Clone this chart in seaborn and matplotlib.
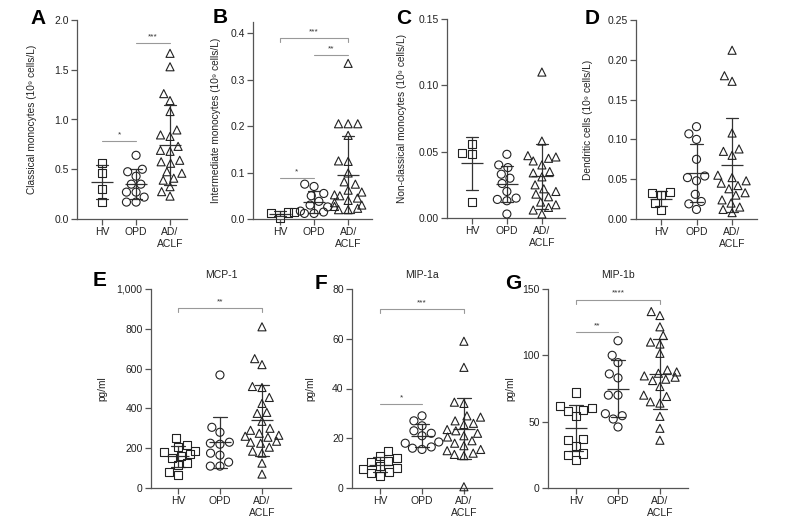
import pandas as pd
import seaborn as sns
import matplotlib.pyplot as plt
from matplotlib.ticker import FormatStrFormatter, StrMethodFormatter

sns.set_style("ticks")
plt.rcParams["font.family"] = ["Liberation Sans", "DejaVu Sans"]

groups = ["HV", "OPD", "AD/ACLF"]
group_ticks = ["HV", "OPD", "AD/\nACLF"]
group_markers = ["s", "o", "^"]

# A - classical monocytes (10^9 cells/L)
classical_hv = [0.56, 0.465, 0.30, 0.175]
classical_opd = [0.64, 0.50, 0.475, 0.43, 0.35, 0.35, 0.27, 0.27, 0.22, 0.17, 0.17]
classical_ad = [1.665, 1.53, 1.26, 1.19, 1.08, 0.895, 0.845, 0.83, 0.73, 0.69, 0.68,
                0.59, 0.575, 0.56, 0.475, 0.46, 0.41, 0.39, 0.325, 0.275, 0.23]

# B - intermediate monocytes
intermediate_hv = [0.003, 0.012, 0.014, 0.015]
intermediate_opd = [0.075, 0.07, 0.055, 0.05, 0.038, 0.03, 0.026, 0.017, 0.015, 0.012, 0.012]
intermediate_ad = [0.335, 0.205, 0.205, 0.205, 0.18, 0.125, 0.124, 0.099, 0.08, 0.075, 0.062,
                   0.058, 0.052, 0.05, 0.045, 0.04, 0.035, 0.03, 0.027, 0.023, 0.02, 0.02]

# C - non-classical monocytes
nonclassical_hv = [0.056, 0.049, 0.048, 0.012]
nonclassical_opd = [0.048, 0.040, 0.038, 0.033, 0.030, 0.026, 0.020, 0.015, 0.014, 0.013, 0.003]
nonclassical_ad = [0.11, 0.058, 0.047, 0.046, 0.045, 0.043, 0.040, 0.035, 0.034, 0.031, 0.025,
                   0.022, 0.02, 0.018, 0.016, 0.012, 0.01, 0.008, 0.006, 0.003]

# D - dendritic cells
dendritic_hv = [0.034, 0.033, 0.03, 0.02, 0.011]
dendritic_opd = [0.116, 0.107, 0.1, 0.075, 0.054, 0.052, 0.048, 0.031, 0.022, 0.019, 0.012]
dendritic_ad = [0.212, 0.18, 0.173, 0.108, 0.088, 0.085, 0.08, 0.055, 0.052, 0.048, 0.045,
                0.042, 0.038, 0.033, 0.03, 0.024, 0.02, 0.015, 0.012, 0.008]

# E - MCP-1 (pg/ml)
mcp1_hv = [250, 215, 205, 185, 180, 170, 160, 150, 125, 115, 80, 65]
mcp1_opd = [568, 305, 280, 230, 225, 220, 175, 165, 130, 110, 110]
mcp1_ad = [810, 650, 620, 510, 505, 455, 425, 380, 375, 335, 300, 290, 275, 265, 260,
           255, 235, 230, 225, 205, 185, 175, 125, 70]

# F - MIP-1a (pg/ml)
mip1a_hv = [15, 13, 12, 11, 10.5, 9, 8, 7.5, 6.5, 6, 5]
mip1a_opd = [29, 27, 25, 23, 22, 21, 18.5, 18, 16.5, 16, 15.5]
mip1a_ad = [59, 48.5, 34.5, 34, 29, 28.5, 27, 26, 25.5, 23.5, 23, 22, 21, 20.5, 19, 18,
            17, 15.5, 15, 14, 13.5, 13, 0.5]

# G - MIP-1b (pg/ml)
mip1b_hv = [72, 62, 60, 59, 58, 54, 37, 36, 32, 26, 25, 21]
mip1b_opd = [111, 100, 94.5, 86, 83, 70, 70, 56, 54.5, 52, 46]
mip1b_ad = [133, 130, 121.5, 115, 110, 108.5, 101.5, 89, 87.5, 86.5, 84.5, 83.5, 82, 81,
            76.5, 70, 69, 65, 64, 54, 45, 36]

panels = [
    # letter, data, ylabel, title, ylim, ystep, fmt, box px (l, t, r, b), xlim, stars
    ("A", (classical_hv, classical_opd, classical_ad),
     "Classical monocytes (10⁹ cells/L)", None, (0, 2.0), 0.5, FormatStrFormatter("%.1f"),
     (77, 20, 187, 219), (-0.74, 2.5),
     [(0, 1, 0.785, "*", False), (1, 2, 1.765, "***", False)]),
    ("B", (intermediate_hv, intermediate_opd, intermediate_ad),
     "Intermediate monocytes (10⁹ cells/L)", None, (0, 0.424), 0.1, FormatStrFormatter("%.1f"),
     (253, 22, 372, 219), (-0.79, 2.7),
     [(0, 1, 0.0885, "*", False), (0, 2, 0.389, "***", True), (1, 2, 0.353, "**", False)]),
    ("C", (nonclassical_hv, nonclassical_opd, nonclassical_ad),
     "Non-classical monocytes (10⁹ cells/L)", None, (0, 0.15), 0.05, FormatStrFormatter("%.2f"),
     (447, 19, 565, 218), (-0.71, 2.66), []),
    ("D", (dendritic_hv, dendritic_opd, dendritic_ad),
     "Dendritic cells (10⁹ cells/L)", None, (0, 0.25), 0.05, FormatStrFormatter("%.2f"),
     (636, 20, 757, 219), (-0.7, 2.7), []),
    ("E", (mcp1_hv, mcp1_opd, mcp1_ad),
     "pg/ml", "MCP-1", (0, 1000), 200, StrMethodFormatter("{x:,.0f}"),
     (151, 289, 291, 488), (-0.64, 2.69),
     [(0, 2, 903, "**", True)]),
    ("F", (mip1a_hv, mip1a_opd, mip1a_ad),
     "pg/ml", "MIP-1a", (0, 80), 20, FormatStrFormatter("%d"),
     (352, 289, 492, 488), (-0.67, 2.67),
     [(0, 2, 72, "***", True), (0, 1, 33.7, "*", False)]),
    ("G", (mip1b_hv, mip1b_opd, mip1b_ad),
     "pg/ml", "MIP-1b", (0, 150), 50, FormatStrFormatter("%d"),
     (548, 289, 688, 488), (-0.67, 2.67),
     [(0, 2, 142, "****", True), (0, 1, 117.3, "**", False)]),
]

letter_pos = {"A": (30, 9), "B": (213, 8), "C": (396, 9), "D": (585, 9),
              "E": (93, 271), "F": (315, 274), "G": (505, 274)}
ylabel_x = {"A": 37, "B": 221, "C": 407, "D": 593, "E": 107, "F": 315, "G": 515}

W, H = 787, 526
fig = plt.figure(figsize=(W / 100, H / 100), dpi=100)
ink = "#222222"
axis_col = "#555555"

for letter, data, ylabel, title, ylim, ystep, fmt, box, xlim, stars in panels:
    l, t, r, b = box
    ax = fig.add_axes([l / W, 1 - b / H, (r - l) / W, (b - t) / H])
    df = pd.DataFrame({
        "group": [g for g, vals in zip(groups, data) for _ in vals],
        "value": [v for vals in data for v in vals],
    })
    for g, m in zip(groups, group_markers):
        sns.swarmplot(data=df[df["group"] == g], x="group", y="value", order=groups,
                      marker=m, size=5.8, color=ink, edgecolor=ink, linewidth=0.8,
                      warn_thresh=1, ax=ax)
    for coll in ax.collections:
        coll.set_facecolor("none")
        if len(coll.get_offsets()):
            coll.set_clip_on(False)
    sns.pointplot(data=df, x="group", y="value", order=groups, errorbar="sd",
                  capsize=0.34, marker="_", markersize=16, markeredgewidth=0.9,
                  linestyle="none", color="#333333", err_kws={"linewidth": 0.9}, ax=ax)

    # significance bars
    span = ylim[1] - ylim[0]
    for x1, x2, y, label, legs in stars:
        if legs:
            d = span * 0.02
            ax.plot([x1, x1, x2, x2], [y - d, y, y, y - d], color="#999999", lw=0.8, clip_on=False)
        else:
            ax.plot([x1, x2], [y, y], color="#999999", lw=0.8, clip_on=False)
        ax.text((x1 + x2) / 2, y + span * 0.015, label, ha="center", va="bottom",
                fontsize=6, color="#333333")

    ax.set_xlim(*xlim)
    ax.set_ylim(*ylim)
    n = int(round((ylim[1] - ylim[0]) / ystep + 1e-6))
    ax.set_yticks([ylim[0] + i * ystep for i in range(n + 1)])
    ax.yaxis.set_major_formatter(fmt)
    ax.set_xticks(range(3))
    ax.set_xticklabels(group_ticks, linespacing=1.25)
    ax.set_xlabel("")
    ax.set_ylabel(ylabel, fontsize=7.3, color=ink)
    ax.yaxis.set_label_coords((ylabel_x[letter] - l) / (r - l), 0.5)
    if title:
        ax.set_title(title, fontsize=7.5, pad=8, color=ink)
    sns.despine(ax=ax)
    for s in ("left", "bottom"):
        ax.spines[s].set_color(axis_col)
        ax.spines[s].set_linewidth(0.9)
    ax.tick_params(length=4, width=0.9, color=axis_col, labelsize=7.5,
                   labelcolor=ink, pad=2)

    lx, ly = letter_pos[letter]
    fig.text(lx / W, 1 - ly / H, letter, fontsize=15, fontweight="bold",
             ha="left", va="top", color="black")

fig.savefig("out.png", dpi=100)
